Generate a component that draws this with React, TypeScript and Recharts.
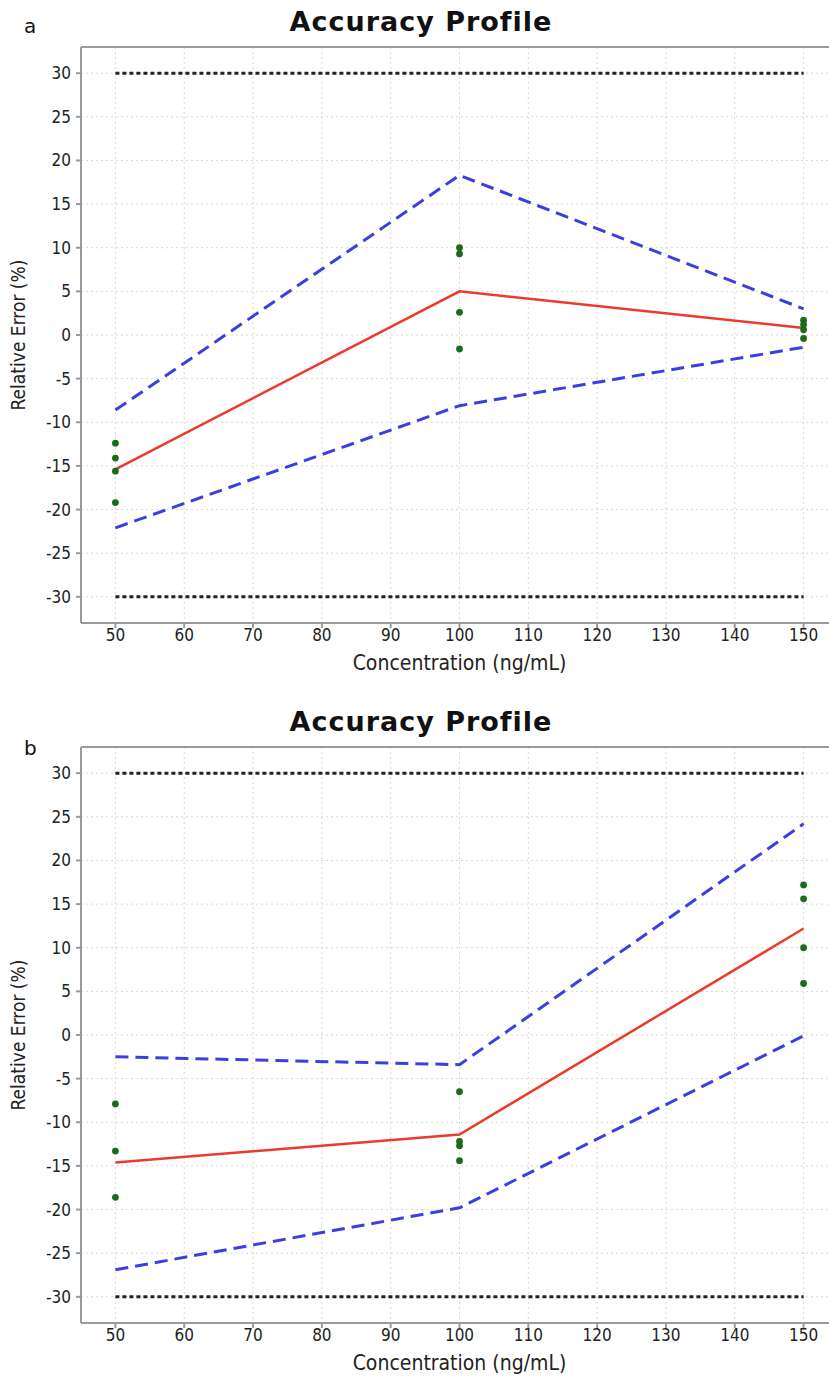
import React from 'react';
import { ComposedChart, Line, Scatter, XAxis, YAxis, CartesianGrid, ReferenceLine } from 'recharts';

const concentrations = [50, 100, 150];
const xTicks = [50, 60, 70, 80, 90, 100, 110, 120, 130, 140, 150];
const yTicks = [-30, -25, -20, -15, -10, -5, 0, 5, 10, 15, 20, 25, 30];
const acceptanceLimit = 30;

// Panel a
const upperA = [-8.6, 18.3, 3.0];
const meanA = [-15.4, 5.0, 0.8];
const lowerA = [-22.1, -8.1, -1.4];
const pointsA50 = [-12.4, -14.1, -15.6, -19.2];
const pointsA100 = [10.0, 9.3, 2.6, -1.6];
const pointsA150 = [1.7, 1.2, 0.6, -0.4];

// Panel b
const upperB = [-2.5, -3.4, 24.2];
const meanB = [-14.6, -11.4, 12.2];
const lowerB = [-26.9, -19.8, -0.1];
const pointsB50 = [-7.9, -13.3, -18.6];
const pointsB100 = [-6.5, -12.2, -12.7, -14.4];
const pointsB150 = [17.2, 15.6, 10.0, 5.9];

const toLine = (vals: number[]) => concentrations.map((x, i) => ({ x, y: vals[i] }));
const toPoints = (groups: number[][]) =>
  groups.flatMap((g, i) => g.map((y) => ({ x: concentrations[i], y })));
const limitLine = (v: number) => [
  { x: concentrations[0], y: v },
  { x: concentrations[concentrations.length - 1], y: v },
];

const FONT = "'DejaVu Sans Condensed', 'DejaVu Sans', sans-serif";
const AXIS_COLOR = '#9a9a9a';

const Dot = (props: any) => {
  const { cx, cy } = props;
  if (cx == null || cy == null) return null;
  return <circle cx={cx} cy={cy} r={3.4} fill="#1b6b1b" />;
};

type PanelProps = {
  upper: number[];
  mean: number[];
  lower: number[];
  points: number[][];
};

const Panel = ({ upper, mean, lower, points }: PanelProps) => (
  <ComposedChart
    width={840}
    height={700}
    margin={{ top: 47, right: 2, bottom: 17, left: 0 }}
    style={{ fontFamily: FONT }}
  >
    <CartesianGrid stroke="#d8d8d8" strokeDasharray="2 3" />
    <XAxis
      type="number"
      dataKey="x"
      domain={[45, 155]}
      ticks={xTicks}
      allowDataOverflow
      height={60}
      stroke={AXIS_COLOR}
      strokeWidth={2}
      tickSize={5}
      tickMargin={1}
      tick={{ fill: '#222', fontSize: 17, fontFamily: FONT }}
      label={(p: any) => {
        const vb = p.viewBox;
        return (
          <text
            x={vb.x + vb.width / 2}
            y={vb.y + 47}
            textAnchor="middle"
            fill="#222"
            fontSize={21}
            fontFamily={FONT}
          >
            Concentration (ng/mL)
          </text>
        );
      }}
    />
    <YAxis
      type="number"
      dataKey="y"
      domain={[-33, 33]}
      ticks={yTicks}
      allowDataOverflow
      width={81}
      stroke={AXIS_COLOR}
      strokeWidth={2}
      tickSize={5}
      tickMargin={5}
      tick={{ fill: '#222', fontSize: 17, fontFamily: FONT }}
      label={(p: any) => {
        const vb = p.viewBox;
        const cy = vb.y + vb.height / 2;
        return (
          <text
            x={25}
            y={cy}
            transform={`rotate(-90 25 ${cy})`}
            textAnchor="middle"
            fill="#222"
            fontSize={19}
            fontFamily={FONT}
          >
            Relative Error (%)
          </text>
        );
      }}
    />
    <ReferenceLine y={33} stroke={AXIS_COLOR} strokeWidth={2} />
    <Line
      data={limitLine(acceptanceLimit)}
      dataKey="y"
      stroke="#222"
      strokeWidth={3}
      strokeDasharray="4 3"
      dot={false}
      isAnimationActive={false}
    />
    <Line
      data={limitLine(-acceptanceLimit)}
      dataKey="y"
      stroke="#222"
      strokeWidth={3}
      strokeDasharray="4 3"
      dot={false}
      isAnimationActive={false}
    />
    <Line
      data={toLine(upper)}
      dataKey="y"
      stroke="#3b3fe0"
      strokeWidth={3}
      strokeDasharray="13 7"
      dot={false}
      isAnimationActive={false}
    />
    <Line
      data={toLine(lower)}
      dataKey="y"
      stroke="#3b3fe0"
      strokeWidth={3}
      strokeDasharray="13 7"
      dot={false}
      isAnimationActive={false}
    />
    <Line
      data={toLine(mean)}
      dataKey="y"
      stroke="#ee3a2c"
      strokeWidth={2.5}
      dot={false}
      isAnimationActive={false}
    />
    <Scatter data={toPoints(points)} dataKey="y" shape={<Dot />} isAnimationActive={false} />
  </ComposedChart>
);

const titleStyle: React.CSSProperties = {
  position: 'absolute',
  left: 0,
  width: 842,
  textAlign: 'center',
  fontFamily: "'DejaVu Sans', sans-serif",
  fontWeight: 'bold',
  fontSize: 27,
  letterSpacing: 1,
  color: '#111',
  lineHeight: '30px',
};

const letterStyle: React.CSSProperties = {
  position: 'absolute',
  left: 24,
  fontFamily: "'DejaVu Sans', sans-serif",
  fontSize: 20,
  color: '#111',
  lineHeight: '22px',
};

export default function App() {
  return (
    <div
      style={{
        position: 'absolute',
        left: 0,
        top: 0,
        width: 829,
        height: 1380,
        overflow: 'hidden',
        background: '#fff',
      }}
    >
      <div style={{ position: 'absolute', left: 0, top: 0 }}>
        <Panel upper={upperA} mean={meanA} lower={lowerA} points={[pointsA50, pointsA100, pointsA150]} />
      </div>
      <div style={{ position: 'absolute', left: 0, top: 700 }}>
        <Panel upper={upperB} mean={meanB} lower={lowerB} points={[pointsB50, pointsB100, pointsB150]} />
      </div>
      <div style={{ ...titleStyle, top: 7 }}>Accuracy Profile</div>
      <div style={{ ...titleStyle, top: 707 }}>Accuracy Profile</div>
      <div style={{ ...letterStyle, top: 15 }}>a</div>
      <div style={{ ...letterStyle, top: 737 }}>b</div>
    </div>
  );
}
